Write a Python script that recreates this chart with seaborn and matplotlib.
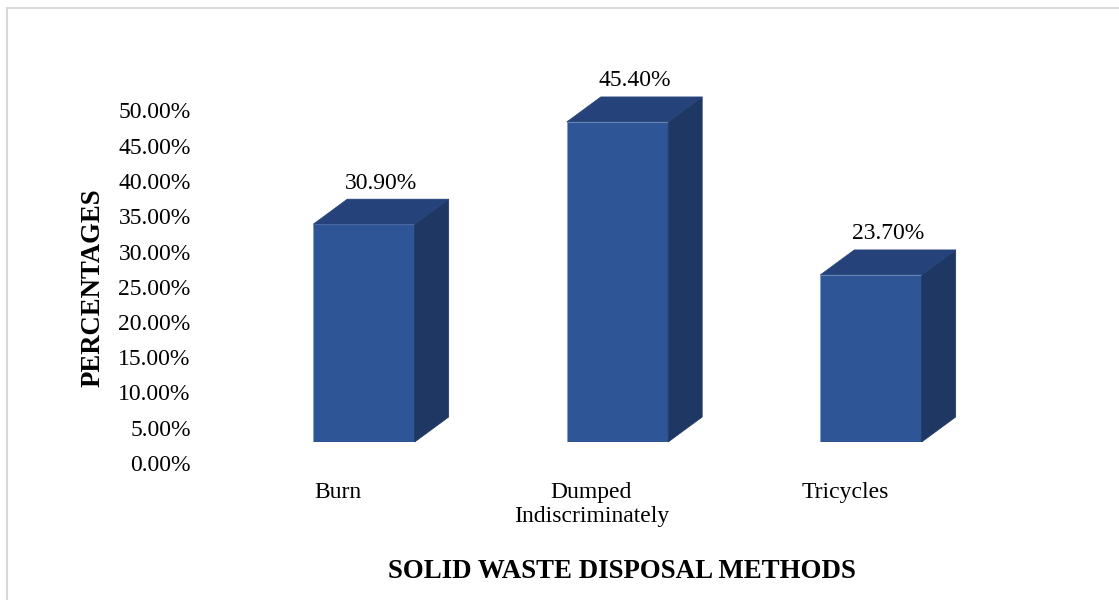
import matplotlib
matplotlib.use("Agg")
import matplotlib.pyplot as plt
import matplotlib.transforms as mtransforms
from matplotlib.patches import Polygon, Rectangle
import seaborn as sns

# data
methods = ["Burn", "Dumped\nIndiscriminately", "Tricycles"]
percent = [30.9, 45.4, 23.7]
y_ticks = [0, 5, 10, 15, 20, 25, 30, 35, 40, 45, 50]

front_col = "#2E5596"
top_col = "#25437A"
side_col = "#1F3863"

sns.set_theme(style="white")
plt.rcParams["font.family"] = ["Liberation Serif", "DejaVu Serif"]

fig = plt.figure(figsize=(11.19, 6.0), dpi=100)
ax = fig.add_axes([237.25 / 1119, 158 / 600, 760.5 / 1119, 352.5 / 600])

sns.barplot(x=methods, y=percent, color=front_col, saturation=1, width=0.4,
            edgecolor="#7F9BD0", linewidth=0.6, ax=ax)

ax.set_xlim(-0.5, 2.5)
ax.set_ylim(0, 50)

# fake 3d depth (Excel style): offset in data units
dx = 34 / 253.5
dy = 25 / 7.05
for p in ax.patches:
    x0, w, h = p.get_x(), p.get_width(), p.get_height()
    side = Polygon([(x0 + w, 0), (x0 + w + dx, dy), (x0 + w + dx, h + dy), (x0 + w, h)],
                   closed=True, facecolor=side_col, edgecolor=side_col, lw=0.5, clip_on=False)
    top = Polygon([(x0, h), (x0 + dx, h + dy), (x0 + w + dx, h + dy), (x0 + w, h)],
                  closed=True, facecolor=top_col, edgecolor=top_col, lw=0.5, clip_on=False)
    ax.add_patch(side)
    ax.add_patch(top)
    ax.annotate(f"{h:.2f}%", (x0 + w / 2 + dx / 2, h + dy), xytext=(0, 16),
                textcoords="offset pixels", ha="center", va="center",
                fontsize=17, color="black", annotation_clip=False)

ax.set_yticks(y_ticks)
ax.set_yticklabels([f"{v:.2f}%" for v in y_ticks])
ax.tick_params(axis="y", length=0, pad=33.5, labelsize=17, labelcolor="black")
ax.tick_params(axis="x", length=0, pad=29, labelsize=17, labelcolor="black")
for lab in ax.get_yticklabels():
    lab.set_transform(lab.get_transform() +
                      mtransforms.ScaledTranslation(0, -21 / 100, fig.dpi_scale_trans))
for lab in ax.get_xticklabels():
    lab.set_linespacing(1.2)
    lab.set_transform(lab.get_transform() +
                      mtransforms.ScaledTranslation(-26 / 100, 0, fig.dpi_scale_trans))

ax.set_xlabel("")
ax.set_ylabel("")
sns.despine(ax=ax, left=True, bottom=True)
ax.grid(False)

fig.text(93 / 1119, 1 - 288 / 600, "PERCENTAGES", rotation=90, ha="center", va="center",
         fontsize=19.3, fontweight="bold", color="black")
fig.text(622 / 1119, 1 - 572 / 600, "SOLID WASTE DISPOSAL METHODS", ha="center", va="center",
         fontsize=19.4, fontweight="bold", color="black")

# light grey chart border
fig.patches.append(Rectangle((7 / 1119, -0.05), 1.1, 0.05 + 1 - 8 / 600,
                             transform=fig.transFigure, fill=False,
                             edgecolor="#D9D9D9", lw=1.5))

fig.savefig("out.png", dpi=100)
